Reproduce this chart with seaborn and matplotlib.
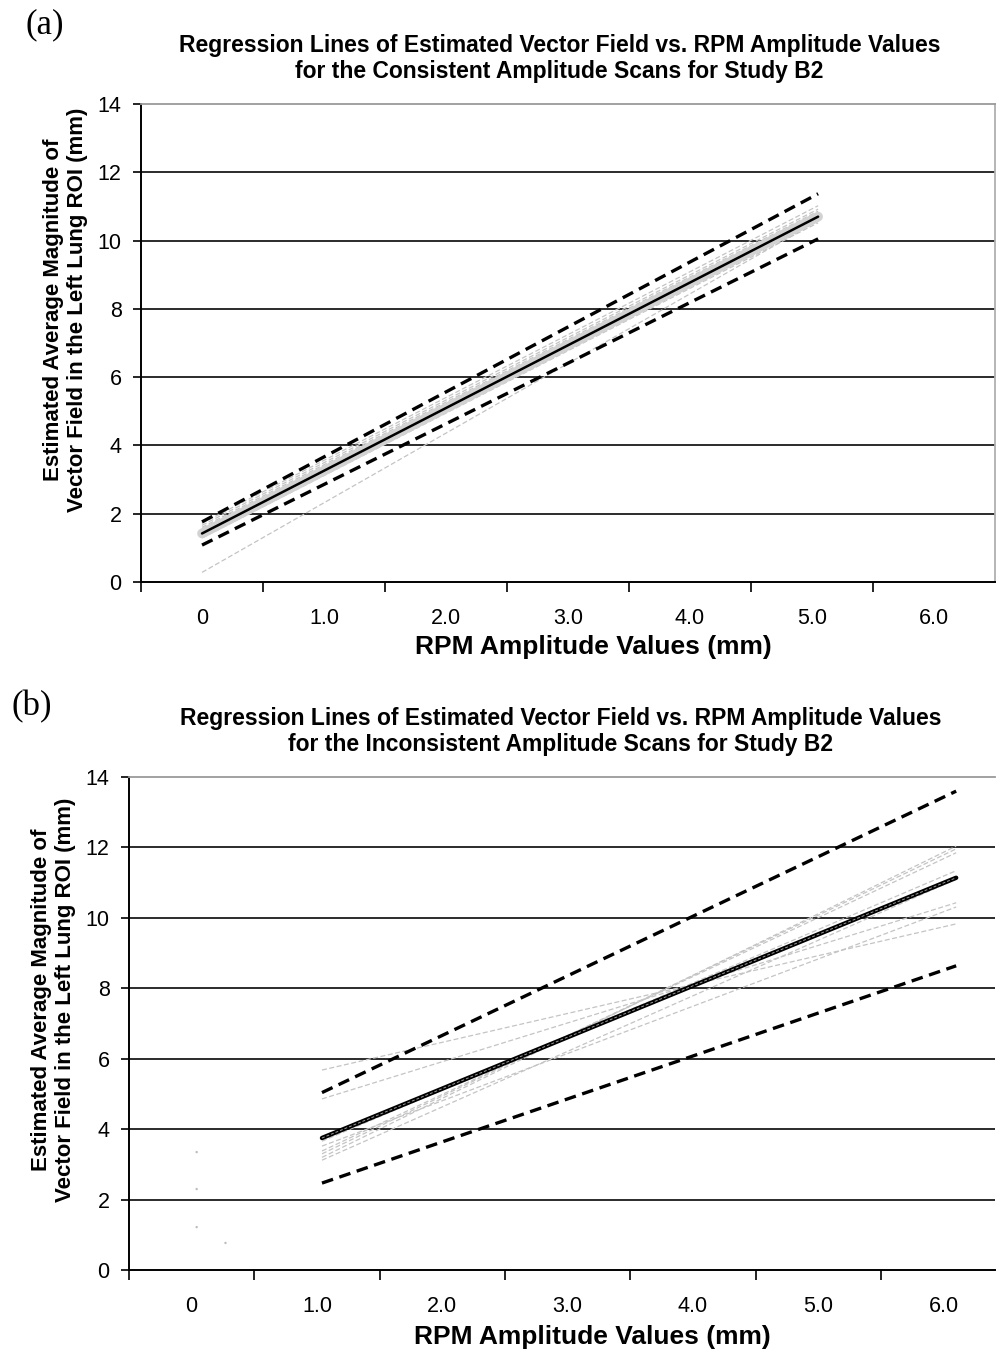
import numpy as np
import pandas as pd
import matplotlib
matplotlib.use("Agg")
import matplotlib.pyplot as plt
import seaborn as sns

# panel (a) - consistent amplitude scans, lines run from RPM 0 to ~5.05
a_x = [0.0, 5.05]
a_fit = [1.42, 10.70]          # mean regression line
a_upper = [1.76, 11.37]        # upper bound (black dashed)
a_lower = [1.08, 10.05]        # lower bound (black dashed)
a_scan_start = [1.72, 1.66, 1.60, 1.55, 1.50, 1.46, 1.36, 1.29, 0.28]
a_scan_end = [11.02, 10.92, 10.86, 10.80, 10.75, 10.70, 10.62, 10.52, 10.58]

# panel (b) - inconsistent amplitude scans, lines run from RPM ~1.04 to ~6.1
b_x = [1.04, 6.10]
b_fit = [3.75, 11.14]
b_upper = [5.04, 13.60]
b_lower = [2.47, 8.64]
b_scan_start = [5.68, 4.86, 3.66, 3.52, 3.38, 3.30, 3.20, 3.12]
b_scan_end = [9.83, 10.43, 11.34, 10.31, 11.85, 11.96, 12.04, 11.10]
# stray faint specks near the origin in (b)
b_dot_x = [0.04, 0.04, 0.04, 0.27]
b_dot_y = [3.35, 2.30, 1.22, 0.77]

x_labels = ["0", "1.0", "2.0", "3.0", "4.0", "5.0", "6.0"]
y_ticks = [0, 2, 4, 6, 8, 10, 12, 14]

title_a = ("Regression Lines of Estimated Vector Field vs. RPM Amplitude Values\n"
           "for the Consistent Amplitude Scans for Study B2")
title_b = ("Regression Lines of Estimated Vector Field vs. RPM Amplitude Values\n"
           "for the Inconsistent Amplitude Scans for Study B2")
ylab = "Estimated Average Magnitude of\nVector Field in the Left Lung ROI (mm)"
xlab = "RPM Amplitude Values (mm)"

sns.set_theme(style="white")
plt.rcParams['font.family'] = ['Liberation Sans', 'DejaVu Sans']
plt.rcParams['text.color'] = 'black'
plt.rcParams['axes.labelcolor'] = 'black'
plt.rcParams['xtick.color'] = 'black'
plt.rcParams['ytick.color'] = 'black'

fig = plt.figure(figsize=(9.96, 13.54), dpi=100)
ax_a = fig.add_axes([0.1416, 0.5702, 0.8574, 0.3530])
ax_b = fig.add_axes([0.1295, 0.0620, 0.8695, 0.3641])

gray = "#c4c4c4"


def draw_panel(ax, xs, fit, upper, lower, starts, ends, band):
    # individual scans, thin light grey dashes
    for s, e in zip(starts, ends):
        sns.lineplot(x=xs, y=[s, e], ax=ax, color=gray, lw=0.9,
                     linestyle=(0, (4, 2)), zorder=3)
    if band:
        sns.lineplot(x=xs, y=fit, ax=ax, color="#d2d2d2", lw=7, zorder=4)
        sns.lineplot(x=xs, y=fit, ax=ax, color="black", lw=1.8, zorder=5)
    else:
        sns.lineplot(x=xs, y=fit, ax=ax, color="black", lw=3.2, zorder=5)
        sns.lineplot(x=xs, y=fit, ax=ax, color="#9a9a9a", lw=0.7,
                     linestyle=(0, (3, 2)), zorder=6)
    for b in (upper, lower):
        sns.lineplot(x=xs, y=b, ax=ax, color="black", lw=2.4,
                     linestyle=(0, (3.5, 2)), zorder=6)


def style_axes(ax, xmax, title, lab_x, ylab_xy, title_x, right_spine):
    ax.set_xlim(-0.5, xmax)
    ax.set_ylim(0, 14)
    ax.set_yticks(y_ticks)
    ax.set_yticklabels([str(v) for v in y_ticks], fontsize=15.5)
    ax.tick_params(axis="y", which="major", direction="out", length=6,
                   width=1.2, color="black", pad=8, left=True)
    # tick marks between categories, labels centred on values
    ax.set_xticks(np.arange(-0.5, xmax, 1.0))
    ax.set_xticklabels([])
    ax.set_xticks(range(len(x_labels)), minor=True)
    ax.set_xticklabels(x_labels, minor=True, fontsize=15.5)
    ax.tick_params(axis="x", which="major", direction="out", length=7,
                   width=1.2, color="black", bottom=True)
    ax.tick_params(axis="x", which="minor", length=0, pad=19, bottom=True)
    for y in y_ticks[1:-1]:
        ax.axhline(y, color="#1a1a1a", lw=1.3, zorder=1)
    ax.spines["left"].set_color("black")
    ax.spines["left"].set_linewidth(1.4)
    ax.spines["bottom"].set_color("black")
    ax.spines["bottom"].set_linewidth(1.4)
    ax.spines["top"].set_color("#9a9a9a")
    ax.spines["top"].set_linewidth(1.3)
    ax.spines["right"].set_color("#b0b0b0")
    ax.spines["right"].set_linewidth(1.3)
    ax.spines["right"].set_visible(right_spine)
    ax.set_title(title, fontsize=16.5, fontweight="bold", x=title_x, pad=19,
                 linespacing=1.15)
    ax.set_xlabel(xlab, fontsize=19, fontweight="bold")
    ax.xaxis.set_label_coords(lab_x, -0.112)
    ax.set_ylabel(ylab, fontsize=16, fontweight="bold", va="center",
                  linespacing=1.2)
    ax.yaxis.set_label_coords(*ylab_xy)


draw_panel(ax_a, a_x, a_fit, a_upper, a_lower, a_scan_start, a_scan_end, True)
style_axes(ax_a, 6.5, title_a, 0.530, (-0.088, 0.569), 0.49, True)

draw_panel(ax_b, b_x, b_fit, b_upper, b_lower, b_scan_start, b_scan_end, False)
sns.scatterplot(x=b_dot_x, y=b_dot_y, ax=ax_b, color="#bdbdbd", s=3,
                edgecolor="none", zorder=2)
style_axes(ax_b, 6.41, title_b, 0.535, (-0.087, 0.548), 0.498, False)

fig.text(0.026, 0.982, "(a)", fontsize=25, family="Liberation Serif",
         va="center", ha="left")
fig.text(0.012, 0.478, "(b)", fontsize=25, family="Liberation Serif",
         va="center", ha="left")

fig.savefig("out.png", dpi=100, facecolor="white")
